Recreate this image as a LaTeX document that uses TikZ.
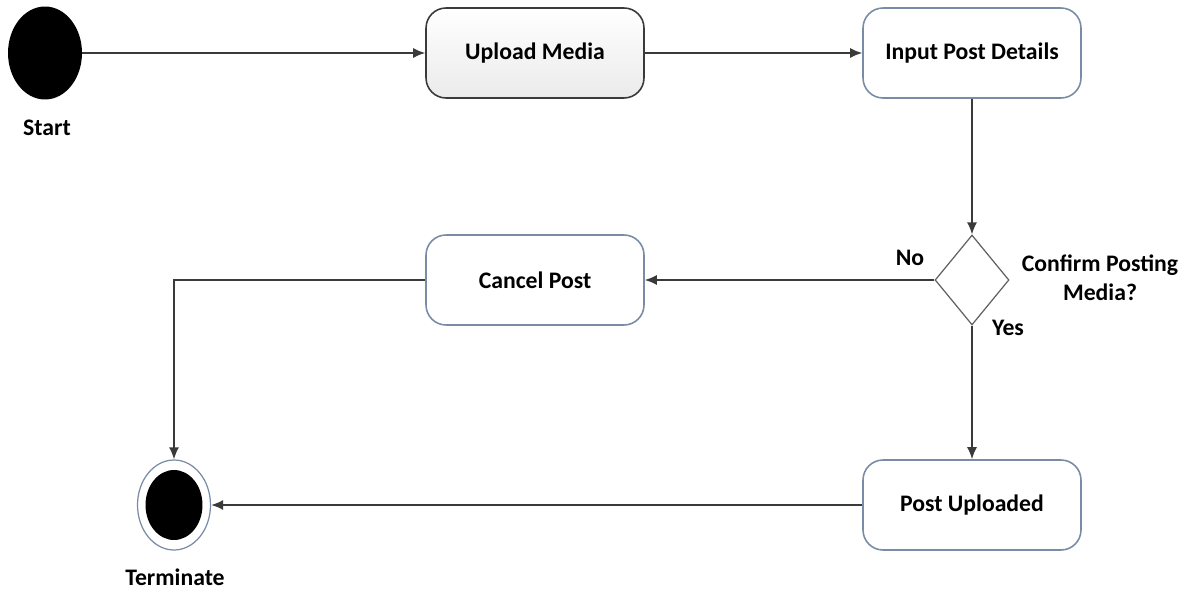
\documentclass[tikz,border=0pt]{standalone}
\usepackage{fontspec}
\setmainfont{Carlito}
\usepackage{tikz}
\usepackage{xcolor}
\usetikzlibrary{arrows.meta,shapes.geometric}

\definecolor{edge}{HTML}{3A3A3A}
\definecolor{boxline}{HTML}{7A8CA5}

\begin{document}
\begin{tikzpicture}[x=0.02cm,y=-0.02cm,>={Latex[length=0.24cm,width=0.2cm]},
  font=\fontsize{13.5}{16.5}\selectfont\bfseries,
  flow/.style={draw=edge,line width=0.9pt,->},
  act/.style={draw=boxline,line width=0.9pt,rounded corners=0.4cm,fill=white,
    minimum width=4.36cm,minimum height=1.8cm,align=center},
  choice/.style={draw=edge!80,line width=0.7pt,shape=diamond,fill=white,
    minimum width=1.48cm,minimum height=1.8cm,inner sep=0pt}]
\useasboundingbox (0,0) rectangle (1192,597);
% start and end points
\node[shape=ellipse,fill=black,minimum width=1.48cm,minimum height=1.86cm,inner sep=0pt](start) at (45,53){};
\node[shape=ellipse,draw=boxline,line width=0.7pt,fill=white,minimum width=1.46cm,minimum height=1.8cm,inner sep=0pt](stop) at (174,505){};
\node[shape=ellipse,fill=black,minimum width=1.14cm,minimum height=1.4cm,inner sep=0pt](stopdot) at (174,505){};
\node(startlbl) at (47,128){Start};
\node(stoplbl) at (175,577){Terminate};
% activities
\node[act,draw=edge,top color=white,bottom color=black!8](upload) at (535,53){Upload Media};
\node[act](details) at (972,53){Input Post Details};
\node[act](cancel) at (535,280){Cancel Post};
\node[act](posted) at (972,505){Post Uploaded};
\node[choice](confirm) at (972,280){};
\node[align=center](confirmlbl) at (1100,278){Confirm Posting\\Media?};
\node(nolbl) at (910,258){No};
\node(yeslbl) at (1008,328){Yes};
% transitions
\draw[flow](start)--(upload);
\draw[flow](upload)--(details);
\draw[flow](details)--(confirm);
\draw[flow](confirm.west)--(cancel);
\draw[flow](confirm.south)--(posted);
\draw[flow](cancel.west)-|(stop.north);
\draw[flow](posted)--(stop);
\end{tikzpicture}
\end{document}
